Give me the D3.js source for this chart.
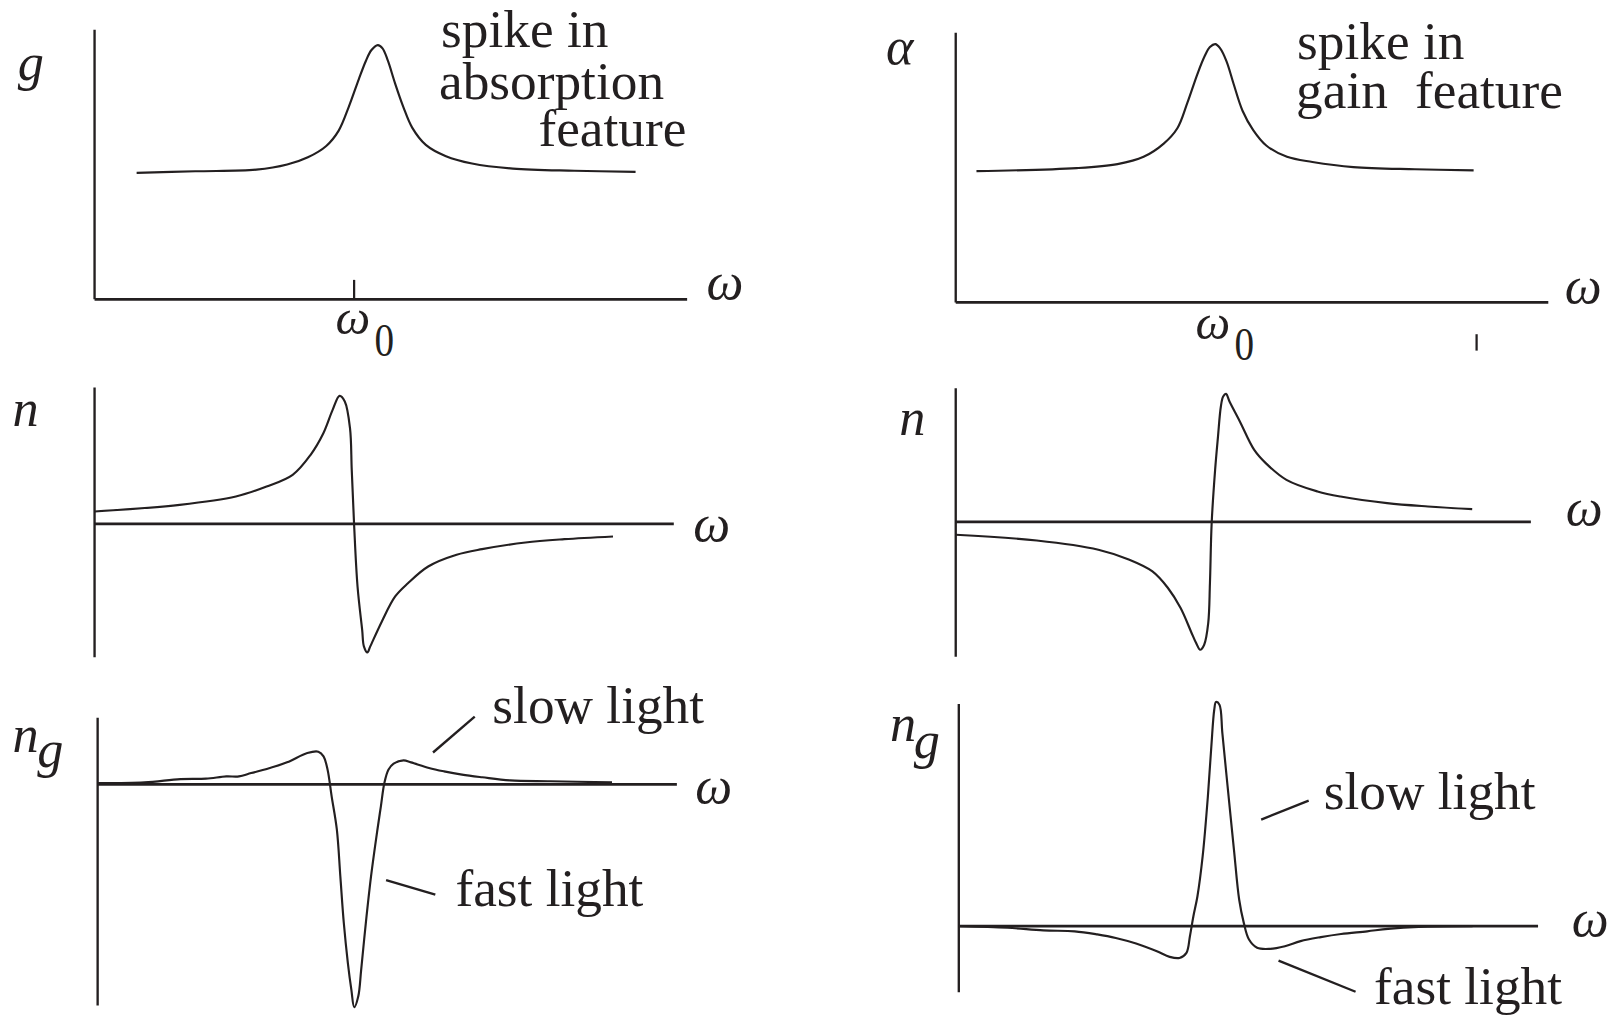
<!DOCTYPE html>
<html><head><meta charset="utf-8">
<script src="https://cdn.jsdelivr.net/npm/d3@7"></script>
<style>html,body{margin:0;padding:0;background:#fff}svg{display:block}</style>
</head><body>
<svg id="chart" width="1608" height="1017" viewBox="0 0 1568 992"></svg>
<script>
// ---------- DATA (ω in % of axis length, value in arbitrary units, 0 = ω axis) ----------
// Panel A: absorption spike g(ω)
const absOmega = [7.1,17.0,27.3,32.5,36.0,39.1,41.2,42.9,44.6,45.8,46.7,47.8,48.6,49.5,50.7,52.1,53.6,55.9,59.3,63.7,70.6,81.0,91.3];
const absG     = [46.9,47.5,48.1,50.0,52.7,56.9,62.6,71.4,81.7,88.5,92.4,94.3,93.1,88.5,80.2,71.4,63.7,57.3,53.1,50.4,48.5,47.7,47.3];
// Panel B: gain spike α(ω)
const gainOmega = [3.5,20.4,27.3,31.7,35.1,37.4,39.1,40.8,42.0,42.9,43.8,44.6,45.7,46.9,48.4,50.2,52.4,55.9,60.2,67.1,77.5,87.4];
const gainAlpha = [48.7,49.8,51.3,54.0,58.9,64.6,74.1,84.8,91.3,94.7,95.8,94.3,89.4,81.0,71.1,63.9,58.2,54.0,52.1,50.2,49.4,49.0];
// Panel C: refractive index n(ω), absorption case
const nAbsOmega = [0,14.7,24.4,29.7,34.2,37.3,39.5,41.1,42.3,43.2,44.1,44.4,44.8,45.4,46.2,46.5,47.1,47.6,49.6,51.9,54.1,57.6,62.5,66.9,74.4,81.1,89.5];
const nAbsN     = [9.1,14.0,20.1,27.4,36.0,50.7,66.5,83.6,93.9,89.8,70.2,39.6,0.1,-45.9,-77.7,-89.8,-94.3,-89.8,-71.5,-53.2,-43.5,-31.2,-22.6,-18.5,-13.6,-11.2,-9.2];
// Panel D: refractive index n(ω), gain case
const nGainOmega = [0,14.1,24.8,30.2,34.2,36.9,39.1,40.9,41.8,42.5,43.2,43.9,44.2,44.5,45.1,45.6,46.1,46.5,47.0,47.6,49.4,51.9,53.9,57.5,62.9,66.9,75.0,82.1,89.8];
const nGainN     = [-9.7,-14.0,-20.9,-28.4,-37.1,-49.5,-64.5,-82.0,-90.7,-95.7,-91.9,-75.8,-45.9,-1.0,38.9,63.8,86.3,93.7,95.7,90.0,75.1,53.8,43.9,31.4,22.7,18.9,14.0,11.5,9.5];
// Panel E: group index n_g(ω), absorption case
const ngAbsOmega = [0,8.1,14.3,18.7,22.2,24.4,26.5,29.2,32.7,36.2,38.1,39.0,39.7,40.4,41.3,41.9,42.5,43.2,43.8,44.3,45.0,45.5,46.3,47.2,48.3,48.9,49.5,50.2,51.1,52.8,54.1,57.2,59.8,62.9,66.4,71.2,78.2,88.8];
const ngAbsNg    = [1.8,2.9,7.8,8.5,11.8,11.8,16.9,22.9,32.9,46.9,48.9,41.8,21.8,-18.2,-68.2,-138.2,-208.2,-268.2,-308.2,-334.6,-318.2,-278.2,-208.2,-138.2,-68.2,-33.1,1.8,21.8,30.9,35.8,32.9,24.5,19.4,14.5,10.5,5.8,4.5,2.9];
// Panel F: group index n_g(ω), gain case
const ngGainOmega = [0,8.4,14.6,20.0,23.9,27.1,30.6,34.2,36.4,38.1,39.3,39.9,40.5,41.2,42.1,43.0,43.6,44.1,44.4,45.0,45.5,46.4,47.5,48.4,49.2,50.1,51.5,53.7,56.3,59.0,62.5,66.0,70.5,74.1,79.4,88.7];
const ngGainNg    = [0,-0.7,-1.9,-2.3,-3.7,-5.3,-7.8,-11.3,-13.8,-14.3,-12.0,-4.5,4.5,13.5,31.5,58.4,81.0,97.4,100.9,99.7,86.9,63.0,34.5,12.0,1.5,-6.0,-9.7,-10.2,-9.0,-6.7,-4.9,-3.5,-2.3,-1.2,-0.3,0];
// Marked frequencies / annotation pointers (data units)
const omega0Tick = [43.8];
const strayTick = [87.9];
const slowPtrAbs = [[57.9,47.7],[65.1,101.5]];
const fastPtrAbs = [[49.8,-144],[58.3,-165.5]];
const slowPtrGain = [[52.2,48.0],[60.4,56.5]];
const fastPtrGain = [[55.2,-15.5],[68.5,-29.5]];

// ---------- LAYOUT ----------
const panels = [
  {id:"A", xr:[92,670],  yd:[0,100],     yr:[292,29],     xs:absOmega,    ys:absG,      ylab:"g", ylabPos:[17,78], wPos:[689,292]},
  {id:"B", xr:[932,1510],yd:[0,100],     yr:[295,32],     xs:gainOmega,   ys:gainAlpha, ylab:"α", ylabPos:[864,62], wPos:[1526,296]},
  {id:"C", xr:[92,657],  yd:[-97.7,100], yr:[641,378],    xs:nAbsOmega,   ys:nAbsN,     ylab:"n", ylabPos:[12,416], wPos:[676,528]},
  {id:"D", xr:[932,1493],yd:[-101,100],  yr:[640.7,378.6],xs:nGainOmega,  ys:nGainN,    ylab:"n", ylabPos:[877,424], wPos:[1527,512]},
  {id:"E", xr:[95,660],  yd:[-332,100],  yr:[980.8,700],  xs:ngAbsOmega,  ys:ngAbsNg,   ylab:"n", ylabSub:"g", ylabPos:[12,734], subPos:[36,748], wPos:[678,783]},
  {id:"F", xr:[935,1500],yd:[-29.7,100], yr:[967.8,686.7],xs:ngGainOmega, ys:ngGainNg,  ylab:"n", ylabSub:"g", ylabPos:[868,723], subPos:[891,739], wPos:[1533,913]}
];

const svg = d3.select("#chart");
const FONT = "'Liberation Serif','Times New Roman',Times,serif";
const ink = "#231f20";

panels.forEach(p => {
  const x = d3.scaleLinear().domain([0,100]).range(p.xr);
  const y = d3.scaleLinear().domain(p.yd).range(p.yr);
  p.x = x; p.y = y;
  const g = svg.append("g");
  // axes
  g.append("line").attr("x1", x(0)).attr("x2", x(0)).attr("y1", y(p.yd[0])).attr("y2", y(p.yd[1]))
    .attr("stroke", ink).attr("stroke-width", 2.3);
  g.append("line").attr("x1", x(0)).attr("x2", x(100)).attr("y1", y(0)).attr("y2", y(0))
    .attr("stroke", ink).attr("stroke-width", 2.7);
  // curve
  const pts = p.xs.map((v,i) => [v, p.ys[i]]);
  const line = d3.line().x(d => x(d[0])).y(d => y(d[1])).curve(d3.curveCatmullRom.alpha(0.5));
  g.append("path").attr("d", line(pts)).attr("fill","none").attr("stroke", ink)
    .attr("stroke-width", 2.1).attr("stroke-linejoin","round");
  // y label
  g.append("text").attr("x", p.ylabPos[0]).attr("y", p.ylabPos[1])
    .attr("font-family", FONT).attr("font-style","italic").attr("font-size", 51).attr("fill", ink).text(p.ylab);
  if (p.ylabSub) {
    g.append("text").attr("x", p.subPos[0]).attr("y", p.subPos[1])
      .attr("font-family", FONT).attr("font-style","italic").attr("font-size", 51).attr("fill", ink).text(p.ylabSub);
  }
  // omega axis label
  g.append("text").attr("x", p.wPos[0]).attr("y", p.wPos[1])
    .attr("font-family", FONT).attr("font-style","italic").attr("font-size", 51).attr("fill", ink).text("ω");
});

const [A,B,C,D,E,F] = panels;
// ω0 tick (panel A) and stray tick (panel B)
svg.selectAll(".w0tick").data(omega0Tick).enter().append("line")
  .attr("x1", d => A.x(d)).attr("x2", d => A.x(d)).attr("y1", A.y(0)-19).attr("y2", A.y(0))
  .attr("stroke", ink).attr("stroke-width", 2.2);
svg.selectAll(".stray").data(strayTick).enter().append("line")
  .attr("x1", d => B.x(d)).attr("x2", d => B.x(d)).attr("y1", B.y(0)+31).attr("y2", B.y(0)+47)
  .attr("stroke", ink).attr("stroke-width", 2.2);

// ω0 labels
function omega0(xw, yw, x0, y0) {
  svg.append("text").attr("x", xw).attr("y", yw).attr("font-family", FONT).attr("font-style","italic")
    .attr("font-size", 48).attr("fill", ink).text("ω");
  svg.append("text").attr("transform", `translate(${x0},${y0}) scale(0.85,1)`).attr("font-family", FONT)
    .attr("font-size", 45).attr("fill", ink).text("0");
}
omega0(327, 326, 365, 347);
omega0(1166, 331, 1204, 351);

// annotation text
function txt(s, xx, yy) {
  svg.append("text").attr("x", xx).attr("y", yy).attr("font-family", FONT)
    .attr("font-size", 52).attr("fill", ink).text(s);
}
txt("spike in", 430, 46);
txt("absorption", 428, 97);
txt("feature", 525, 142);
txt("spike in", 1265, 58);
txt("gain", 1264, 105);
txt("feature", 1380, 105);
txt("slow light", 480, 705);
txt("fast light", 444, 884);
txt("slow light", 1291, 789);
txt("fast light", 1340, 979);

// pointer lines
function ptr(P, seg) {
  svg.append("line").attr("x1", P.x(seg[0][0])).attr("y1", P.y(seg[0][1]))
    .attr("x2", P.x(seg[1][0])).attr("y2", P.y(seg[1][1])).attr("stroke", ink).attr("stroke-width", 2.3);
}
ptr(E, slowPtrAbs); ptr(E, fastPtrAbs); ptr(F, slowPtrGain); ptr(F, fastPtrGain);
</script>
</body></html>
